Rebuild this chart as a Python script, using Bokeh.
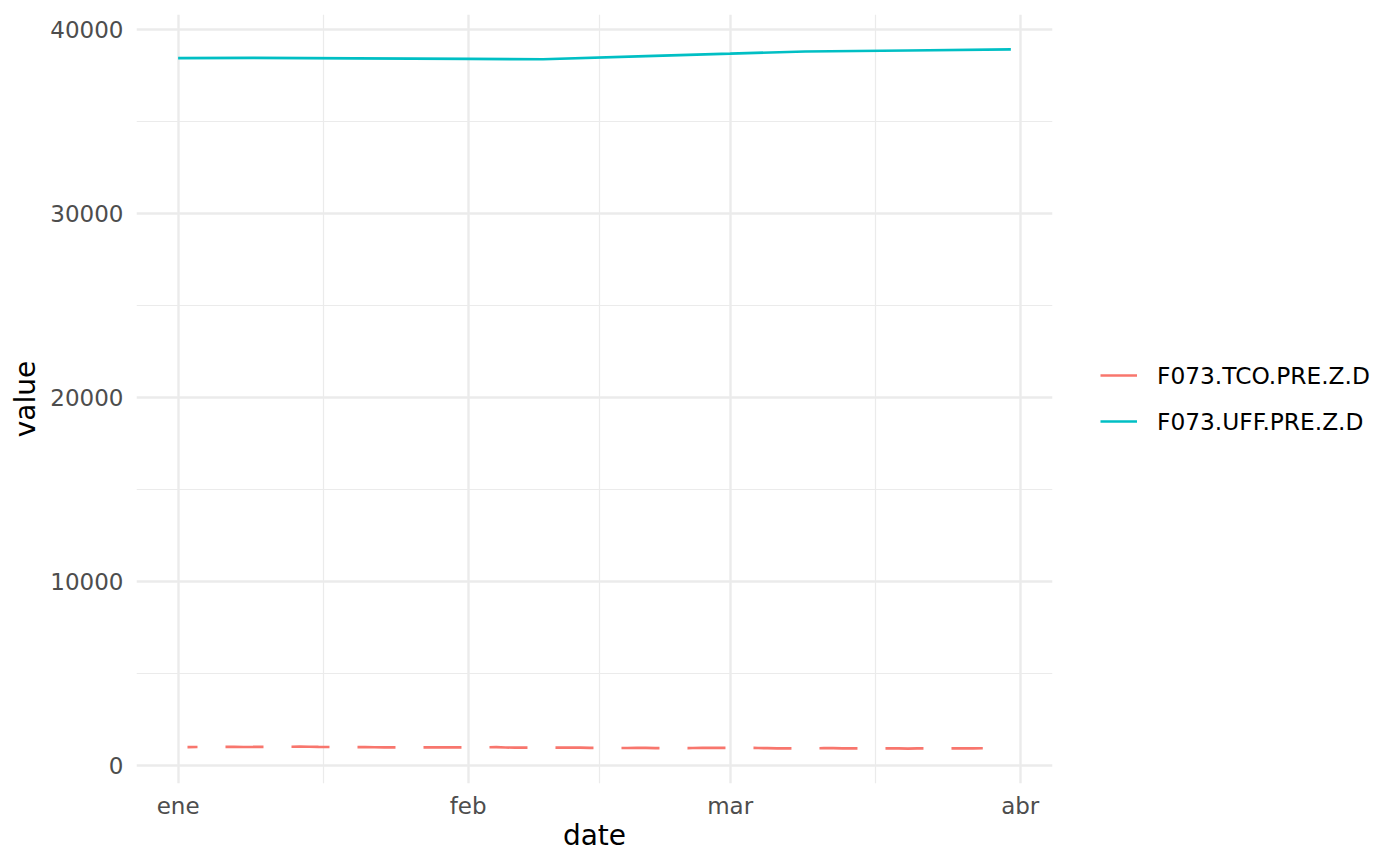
import pandas as pd
from bokeh.plotting import figure
from bokeh.models import FixedTicker, Legend, LegendItem, Range1d, PrintfTickFormatter
from bokeh.embed import file_html
from bokeh.resources import INLINE

# ---------------- data ----------------
series_names = ["F073.TCO.PRE.Z.D", "F073.UFF.PRE.Z.D"]

tco_dates = [
    "2025-01-02", "2025-01-03", "2025-01-06", "2025-01-07", "2025-01-08", "2025-01-09",
    "2025-01-10", "2025-01-13", "2025-01-14", "2025-01-15", "2025-01-16", "2025-01-17",
    "2025-01-20", "2025-01-21", "2025-01-22", "2025-01-23", "2025-01-24", "2025-01-27",
    "2025-01-28", "2025-01-29", "2025-01-30", "2025-01-31",
    "2025-02-03", "2025-02-04", "2025-02-05", "2025-02-06", "2025-02-07", "2025-02-10",
    "2025-02-11", "2025-02-12", "2025-02-13", "2025-02-14", "2025-02-17", "2025-02-18",
    "2025-02-19", "2025-02-20", "2025-02-21", "2025-02-24", "2025-02-25", "2025-02-26",
    "2025-02-27", "2025-02-28",
    "2025-03-03", "2025-03-04", "2025-03-05", "2025-03-06", "2025-03-07", "2025-03-10",
    "2025-03-11", "2025-03-12", "2025-03-13", "2025-03-14", "2025-03-17", "2025-03-18",
    "2025-03-19", "2025-03-20", "2025-03-21", "2025-03-24", "2025-03-25", "2025-03-26",
    "2025-03-27", "2025-03-28",
]
tco_values = [
    996.5, 1000.2, 1003.1, 1005.4, 1000.8, 1003.0,
    1010.2, 1014.1, 1017.6, 1012.9, 1005.3, 1001.2,
    999.1, 996.0, 986.3, 984.2, 984.0, 983.4,
    985.1, 984.3, 985.0, 981.0,
    986.2, 989.1, 972.4, 970.3, 966.1, 965.2,
    964.0, 961.3, 963.1, 953.2, 946.4, 946.1,
    950.2, 950.0, 943.3, 944.1, 945.2, 949.0,
    950.3, 952.1,
    955.0, 946.2, 940.1, 930.3, 929.1, 927.2,
    935.0, 934.1, 930.2, 928.0, 926.1, 926.3,
    921.0, 916.4, 921.2, 928.1, 932.0, 927.3,
    930.1, 933.2,
]

uff_dates = [
    "2025-01-01", "2025-01-09", "2025-01-20", "2025-02-01", "2025-02-09",
    "2025-02-20", "2025-03-01", "2025-03-09", "2025-03-20", "2025-03-31",
]
uff_values = [
    38416.7, 38437.9, 38410.5, 38380.2, 38360.1,
    38525.8, 38660.4, 38782.0, 38835.6, 38892.3,
]

x_tick_dates = ["2025-01-01", "2025-02-01", "2025-03-01", "2025-04-01"]
x_tick_labels = ["ene", "feb", "mar", "abr"]
y_ticks = [0, 10000, 20000, 30000, 40000]
y_minor_ticks = [5000, 15000, 25000, 35000]

colors = ["#F8766D", "#00BFC4"]

# ---------------- helpers ----------------
def to_ms(s):
    return int(pd.Timestamp(s).value // 10**6)

tco_x = [to_ms(d) for d in tco_dates]
uff_x = [to_ms(d) for d in uff_dates]

all_x = tco_x + uff_x
all_y = tco_values + uff_values
xmin, xmax = min(all_x), max(all_x)
ymin, ymax = min(all_y), max(all_y)
xpad = 0.05 * (xmax - xmin)
ypad = 0.05 * (ymax - ymin)

xt = [to_ms(d) for d in x_tick_dates]
x_minor = [(a + b) / 2 for a, b in zip(xt[:-1], xt[1:])]

FONT = "DejaVu Sans"
NAN = float("nan")

p = figure(
    x_axis_type="datetime",
    frame_width=916, frame_height=769,
    min_border_left=136, min_border_right=330,
    min_border_top=14, min_border_bottom=70,
    x_range=Range1d(xmin - xpad, xmax + xpad),
    y_range=Range1d(ymin - ypad, ymax + ypad),
    output_backend="svg", toolbar_location=None,
)
p.outline_line_color = None
p.background_fill_color = "white"
p.border_fill_color = "white"

# series
p.line(x=tco_x, y=tco_values, line_color=colors[0], line_width=2.7,
       line_dash="38 28", line_dash_offset=28)
p.line(x=uff_x, y=uff_values, line_color=colors[1], line_width=2.7)

# legend keys (solid lines; renderers hold no visible data)
r_leg0 = p.line(x=[NAN, NAN], y=[NAN, NAN], line_color=colors[0], line_width=2.7)
r_leg1 = p.line(x=[NAN, NAN], y=[NAN, NAN], line_color=colors[1], line_width=2.7)

legend = Legend(
    items=[LegendItem(label=series_names[0], renderers=[r_leg0]),
           LegendItem(label=series_names[1], renderers=[r_leg1])],
    location=(48, 344), orientation="vertical",
    glyph_width=37, glyph_height=36, label_height=36, label_standoff=20,
    spacing=10, padding=0, margin=0,
    border_line_color=None, background_fill_alpha=0,
    label_text_font=FONT, label_text_font_size="23.3px", label_text_color="black",
)
p.add_layout(legend, "right")

# ticks
p.xaxis.ticker = FixedTicker(ticks=xt, minor_ticks=x_minor)
p.xaxis.major_label_overrides = {t: lab for t, lab in zip(xt, x_tick_labels)}
p.yaxis.ticker = FixedTicker(ticks=y_ticks, minor_ticks=y_minor_ticks)
p.yaxis.formatter = PrintfTickFormatter(format="%d")

for ax in (p.xaxis[0], p.yaxis[0]):
    ax.axis_line_color = None
    ax.major_tick_line_color = None
    ax.minor_tick_line_color = None
    ax.major_label_text_font = FONT
    ax.major_label_text_font_size = "23px"
    ax.major_label_text_color = "#4D4D4D"
    ax.axis_label_text_font = FONT
    ax.axis_label_text_font_size = "28px"
    ax.axis_label_text_font_style = "normal"
    ax.axis_label_text_color = "black"

p.xaxis.axis_label = "date"
p.yaxis.axis_label = "value"
p.xaxis.major_label_standoff = 3
p.xaxis.axis_label_standoff = -3
p.yaxis.major_label_standoff = 7
p.yaxis.axis_label_standoff = 5

for g in (p.xgrid[0], p.ygrid[0]):
    g.grid_line_color = "#EBEBEB"
    g.grid_line_width = 2.4
    g.minor_grid_line_color = "#EBEBEB"
    g.minor_grid_line_width = 1.2

open("out.html", "w").write(file_html(p, INLINE))
